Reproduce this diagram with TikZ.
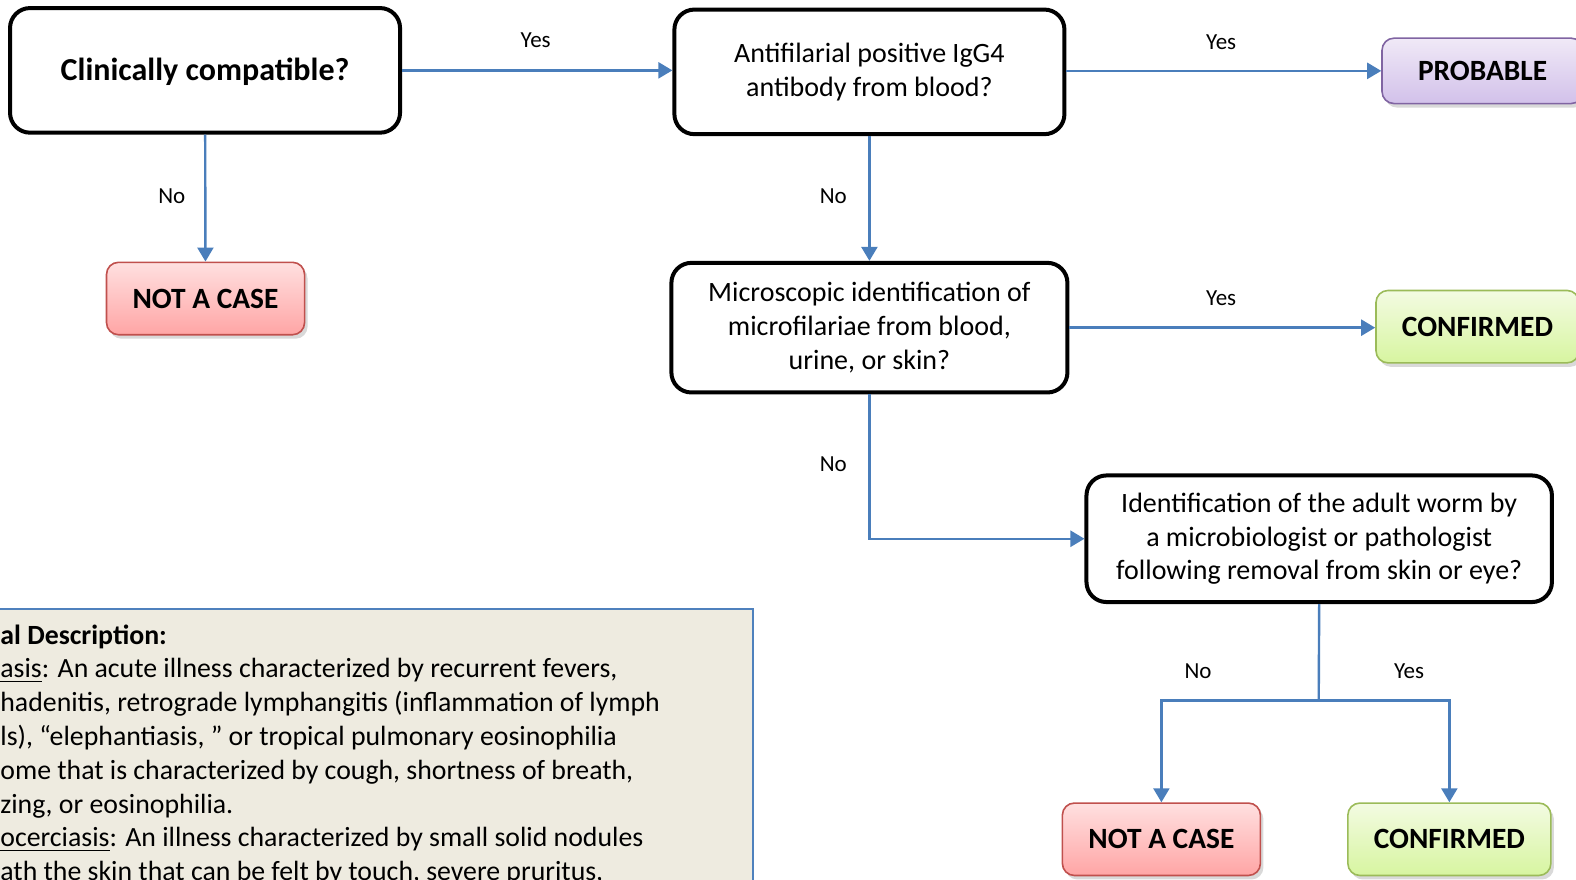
\documentclass[tikz,border=0pt]{standalone}
\usepackage{fontspec}
\setmainfont{Carlito}
\usetikzlibrary{arrows.meta,positioning,calc,shadows}
\definecolor{flow}{HTML}{4A7EBB}
\definecolor{redline}{HTML}{C0504D}
\definecolor{redtop}{HTML}{FFE0E0}
\definecolor{redbot}{HTML}{FFA5A5}
\definecolor{greenline}{HTML}{9BBB59}
\definecolor{greentop}{HTML}{F3FBE2}
\definecolor{greenbot}{HTML}{D7F5A0}
\definecolor{purpleline}{HTML}{8064A2}
\definecolor{purpletop}{HTML}{F0E9F7}
\definecolor{purplebot}{HTML}{D2C1EA}
\definecolor{notefill}{HTML}{EEEBE0}
\definecolor{noteline}{HTML}{4F81BD}
\tikzset{
  question/.style={draw=black,line width=2pt,rounded corners=10pt,fill=white,align=center,
    font=\fontsize{14}{16.9}\selectfont},
  outcome/.style={draw=#1line,line width=0.8pt,rounded corners=6pt,top color=#1top,bottom color=#1bot,
    font=\bfseries\fontsize{14.7}{17}\selectfont,minimum height=36.2pt,
    drop shadow={opacity=0.3,shadow xshift=1.5pt,shadow yshift=-2pt}},
  flowarrow/.style={draw=flow,line width=1.2pt,-{Triangle[length=7pt,width=8pt]}},
  flowline/.style={draw=flow,line width=1.2pt},
  answer/.style={font=\fontsize{11.5}{14}\selectfont},
}
\begin{document}
\begin{tikzpicture}[x=0.5025pt,y=-0.5025pt]
\useasboundingbox (0,0) rectangle (1568,875);
\clip (0,0) rectangle (1568,875);
% questions
\node[question,minimum width=195pt,minimum height=62.3pt,font=\bfseries\fontsize{16}{19}\selectfont,
  execute at begin node={\rule{0pt}{12.4pt}}] (clin) at (204,70) {Clinically compatible?};
\node[question,minimum width=195pt,minimum height=62.3pt] (anti) at (865,71.5) {Antifilarial positive IgG4\\antibody from blood?};
\node[question,minimum width=198pt,minimum height=64.8pt] (micro) at (865,326) {Microscopic identification of\\microfilariae from blood,\\urine, or skin?};
\node[question,minimum width=232.7pt,minimum height=63.3pt] (ident) at (1312.5,536) {Identification of the adult worm by\\a microbiologist or pathologist\\following removal from skin or eye?};
% outcomes
\node[outcome=red,minimum width=99pt] (nac1) at (204.5,297) {NOT A CASE};
\node[outcome=purple,minimum width=100.5pt,minimum height=32.7pt] (prob) at (1475,70.5) {PROBABLE};
\node[outcome=green,minimum width=101.5pt] (conf1) at (1470,325) {CONFIRMED};
\node[outcome=red,minimum width=99pt] (nac2) at (1155.5,835) {NOT A CASE};
\node[outcome=green,minimum width=101.5pt] (conf2) at (1442,835) {CONFIRMED};
% connectors
\coordinate (split) at (1312,697);
\draw[flowarrow] (clin) -- (anti.west |- clin.east);
\draw[flowarrow] (clin) -- (nac1);
\draw[flowarrow] (anti.east |- prob.west) -- (prob);
\draw[flowarrow] (anti) -- (micro);
\draw[flowarrow] (micro.east) -- (conf1.west |- micro.east);
\draw[flowarrow] (micro.south) |- (ident.west);
\draw[flowline] (ident.south) -- (split);
\draw[flowarrow] (split) -| (nac2.north);
\draw[flowarrow] (split) -| (conf2.north);
\node[answer] (yes1) at (533,40) {Yes};
\node[answer] (no1) at (171,195) {No};
\node[answer] (yes2) at (1215,42) {Yes};
\node[answer] (no2) at (829,195) {No};
\node[answer] (yes3) at (1215,297) {Yes};
\node[answer] (no3) at (829,462) {No};
\node[answer] (no4) at (1192,668) {No};
\node[answer] (yes4) at (1402,668) {Yes};
% clinical description
\node[draw=noteline,line width=0.8pt,fill=notefill,minimum width=390pt,minimum height=160pt,anchor=north east] (note) at (750,605) {};
\node[anchor=north west,inner sep=0pt,align=left,font=\fontsize{13.9}{16.9}\selectfont] (notetext) at (0,621) {\textbf{al Description:}\\
\underline{asis}: An acute illness characterized by recurrent fevers,\\
hadenitis, retrograde lymphangitis (inflammation of lymph\\
ls), “elephantiasis, ” or tropical pulmonary eosinophilia\\
ome that is characterized by cough, shortness of breath,\\
zing, or eosinophilia.\\
\underline{ocerciasis}: An illness characterized by small solid nodules\\
ath the skin that can be felt by touch, severe pruritus,};
\end{tikzpicture}
\end{document}
